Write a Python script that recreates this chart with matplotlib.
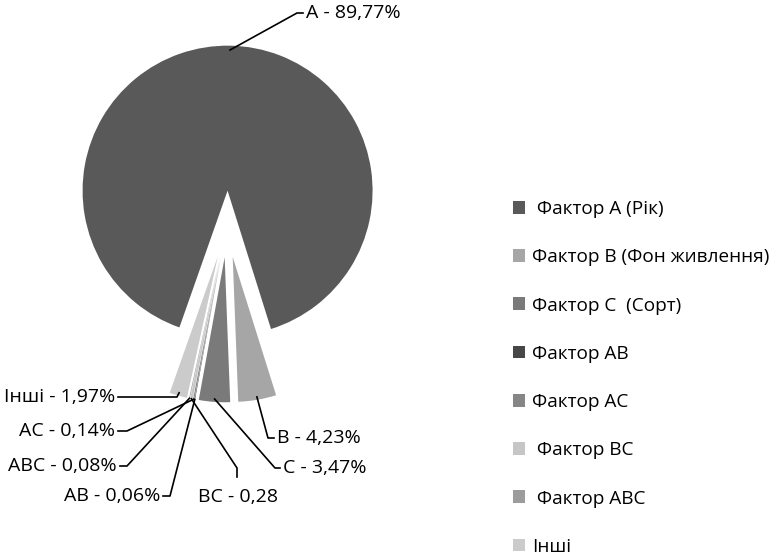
import numpy as np
import matplotlib
matplotlib.use('Agg')
import matplotlib.pyplot as plt

plt.rcParams['font.family'] = ['Open Sans', 'DejaVu Sans']

# data
factors = ['A', 'B', 'C', 'AB', 'AC', 'BC', 'ABC', 'Інші']
shares = [89.77, 4.23, 3.47, 0.06, 0.14, 0.28, 0.08, 1.97]
slice_labels = ['A - 89,77%', 'B - 4,23%', 'C - 3,47%', 'AB - 0,06%',
                'AC - 0,14%', 'BC - 0,28', 'ABC - 0,08%', 'Інші - 1,97%']
legend_labels = [' Фактор А (Рік)', 'Фактор В (Фон живлення)', 'Фактор С  (Сорт)',
                 'Фактор АВ', 'Фактор АС', ' Фактор ВС', ' Фактор АВС', 'Інші']
colors = ['#595959', '#a6a6a6', '#7a7a7a', '#474747',
          '#868686', '#c6c6c6', '#9c9c9c', '#cbcbcb']

W, H = 778, 558
CX, CY, R = 227, 224, 145   # pie centre / radius in pixels
LBL_FS = 14
LEG_FS = 13.7


def px(x, y):
    # pixel (y down) -> data coords
    return (x - CX) / R, (CY - y) / R


fig = plt.figure(figsize=(W / 100, H / 100), dpi=100)
ax = fig.add_axes([0, 0, 1, 1])
wedges, _ = ax.pie(shares, colors=colors, startangle=-109.4, counterclock=False,
                   explode=[0.23] * len(shares), radius=1,
                   wedgeprops=dict(linewidth=0))
ax.set_xlim(-CX / R, (W - CX) / R)
ax.set_ylim(-(H - CY) / R, CY / R)
ax.set_aspect('auto')
ax.axis('off')

# label layout: elbow point, text point, alignment (pixels)
layout = [
    ((297, 13), (306, 13), 'left'),
    ((268, 438), (277, 438), 'left'),
    ((275, 468), (283, 468), 'left'),
    ((170, 496), (160, 496), 'right'),
    ((127, 431), (115, 431), 'right'),
    ((237, 468), (238, 497), 'center'),
    ((127, 466), (117, 466), 'right'),
    ((177, 397), (115, 397), 'right'),
]
# radial position of the leader start on each wedge
anchor_r = [0.97, 0.98, 0.98, 1.0, 1.0, 1.0, 1.0, 0.98]

for w, lab, (elb, tp, ha), ar in zip(wedges, slice_labels, layout, anchor_r):
    ang = np.deg2rad((w.theta1 + w.theta2) / 2)
    x0 = w.center[0] + ar * w.r * np.cos(ang)
    y0 = w.center[1] + ar * w.r * np.sin(ang)
    ex, ey = px(*elb)
    tx, ty = px(*tp)
    if ha == 'center':
        ax.plot([x0, ex, ex], [y0, ey, px(0, 477)[1]], color='black', lw=1.2)
        ax.text(tx, ty, lab, ha='center', va='center', fontsize=LBL_FS)
    elif ha == 'left':
        ax.plot([x0, ex, tx - 3 / R], [y0, ey, ey], color='black', lw=1.2)
        ax.text(tx, ty, lab, ha='left', va='center', fontsize=LBL_FS)
    else:
        ax.plot([x0, ex, tx + 3 / R], [y0, ey, ey], color='black', lw=1.2)
        ax.text(tx, ty, lab, ha='right', va='center', fontsize=LBL_FS)

ax.legend(wedges, legend_labels, loc='upper left', bbox_to_anchor=(513 / W, 1 - 200 / H),
          bbox_transform=fig.transFigure, frameon=False, fontsize=LEG_FS,
          handlelength=0.65, handleheight=0.65, handletextpad=0.33,
          labelspacing=1.59, borderpad=0, borderaxespad=0)

fig.savefig('out.png', dpi=100)
